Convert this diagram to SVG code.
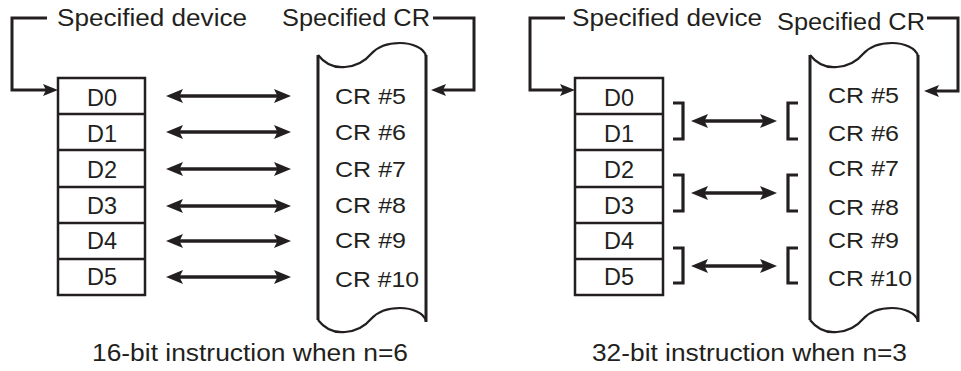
<svg xmlns="http://www.w3.org/2000/svg" width="961" height="371" viewBox="0 0 961 371">
<style>
  text { font-family: "Liberation Sans", Arial, sans-serif; fill: #231f20; }
  .lbl { font-size: 23px; }
  .d { font-size: 23px; text-anchor: middle; }
  .cr { font-size: 22px; }
  .cap { font-size: 23px; }
  .box { fill: #ffffff; stroke: #231f20; stroke-width: 2.5; }
  .sep { stroke: #231f20; stroke-width: 2.5; }
  .edge { fill: none; stroke: #231f20; stroke-width: 3; }
  .wave { fill: none; stroke: #231f20; stroke-width: 2.2; }
  .dbl { fill: none; stroke: #231f20; stroke-width: 3.5; marker-start: url(#ah); marker-end: url(#ah); }
  .one { fill: none; stroke: #231f20; stroke-width: 3; marker-end: url(#ahs); }
  .brk { fill: none; stroke: #231f20; stroke-width: 3.2; }
</style>
<defs>
  <marker id="ah" viewBox="0 0 17 14" refX="8" refY="7" markerWidth="17" markerHeight="14" orient="auto-start-reverse" markerUnits="userSpaceOnUse">
    <path d="M0,0 L17,7 L0,14 L3.5,7 Z" fill="#231f20"/>
  </marker>
  <marker id="ahs" viewBox="0 0 15 12" refX="7" refY="6" markerWidth="15" markerHeight="12" orient="auto" markerUnits="userSpaceOnUse">
    <path d="M0,0 L15,6 L0,12 L3,6 Z" fill="#231f20"/>
  </marker>
</defs>

<!-- Left panel -->
<g id="left-device">
  <rect class="box" x="58" y="78" width="87" height="217"/>
  <line class="sep" x1="58" y1="114" x2="145" y2="114"/>
  <line class="sep" x1="58" y1="150" x2="145" y2="150"/>
  <line class="sep" x1="58" y1="187" x2="145" y2="187"/>
  <line class="sep" x1="58" y1="223" x2="145" y2="223"/>
  <line class="sep" x1="58" y1="259" x2="145" y2="259"/>
  <text class="d" x="102" y="106" textLength="30" lengthAdjust="spacingAndGlyphs">D0</text>
  <text class="d" x="102" y="142" textLength="30" lengthAdjust="spacingAndGlyphs">D1</text>
  <text class="d" x="102" y="178" textLength="30" lengthAdjust="spacingAndGlyphs">D2</text>
  <text class="d" x="102" y="214" textLength="30" lengthAdjust="spacingAndGlyphs">D3</text>
  <text class="d" x="102" y="249" textLength="30" lengthAdjust="spacingAndGlyphs">D4</text>
  <text class="d" x="102" y="285" textLength="30" lengthAdjust="spacingAndGlyphs">D5</text>
</g>
<g id="left-cr">
  <path class="wave" d="M318,55 C325,64 335,68 345,67 C358,66 366,60 371,54 C378,46 388,43 400,43 C412,43 424,48 426,56"/>
  <path class="wave" d="M318,320 C325,329 335,333 345,332 C358,331 366,325 371,319 C378,311 388,308 400,308 C412,308 424,313 426,321"/>
  <line class="edge" x1="318" y1="55" x2="318" y2="320"/>
  <line class="edge" x1="426" y1="55" x2="426" y2="322"/>
  <text class="cr" x="335" y="104" textLength="71" lengthAdjust="spacingAndGlyphs">CR #5</text>
  <text class="cr" x="335" y="140" textLength="71" lengthAdjust="spacingAndGlyphs">CR #6</text>
  <text class="cr" x="335" y="177" textLength="71" lengthAdjust="spacingAndGlyphs">CR #7</text>
  <text class="cr" x="335" y="213" textLength="71" lengthAdjust="spacingAndGlyphs">CR #8</text>
  <text class="cr" x="335" y="248" textLength="71" lengthAdjust="spacingAndGlyphs">CR #9</text>
  <text class="cr" x="335" y="287" textLength="84" lengthAdjust="spacingAndGlyphs">CR #10</text>
</g>
<g id="left-labels">
  <text class="lbl" x="57" y="26" textLength="190" lengthAdjust="spacingAndGlyphs">Specified device</text>
  <text class="lbl" x="282" y="26" textLength="148" lengthAdjust="spacingAndGlyphs">Specified CR</text>
  <text class="cap" x="92" y="361" textLength="316" lengthAdjust="spacingAndGlyphs">16-bit instruction when n=6</text>
</g>

<!-- Right panel -->
<g id="right-device">
  <rect class="box" x="575" y="78" width="88" height="217"/>
  <line class="sep" x1="575" y1="114" x2="663" y2="114"/>
  <line class="sep" x1="575" y1="150" x2="663" y2="150"/>
  <line class="sep" x1="575" y1="187" x2="663" y2="187"/>
  <line class="sep" x1="575" y1="223" x2="663" y2="223"/>
  <line class="sep" x1="575" y1="259" x2="663" y2="259"/>
  <text class="d" x="619" y="106" textLength="30" lengthAdjust="spacingAndGlyphs">D0</text>
  <text class="d" x="619" y="142" textLength="30" lengthAdjust="spacingAndGlyphs">D1</text>
  <text class="d" x="619" y="178" textLength="30" lengthAdjust="spacingAndGlyphs">D2</text>
  <text class="d" x="619" y="214" textLength="30" lengthAdjust="spacingAndGlyphs">D3</text>
  <text class="d" x="619" y="249" textLength="30" lengthAdjust="spacingAndGlyphs">D4</text>
  <text class="d" x="619" y="285" textLength="30" lengthAdjust="spacingAndGlyphs">D5</text>
</g>
<g id="right-cr">
  <path class="wave" d="M810,55 C817,64 827,68 837,67 C850,66 858,60 863,54 C870,46 880,43 892,43 C904,43 916,48 918,56"/>
  <path class="wave" d="M810,320 C817,329 827,333 837,332 C850,331 858,325 863,319 C870,311 880,308 892,308 C904,308 916,313 918,321"/>
  <line class="edge" x1="810" y1="55" x2="810" y2="320"/>
  <line class="edge" x1="918" y1="55" x2="918" y2="322"/>
  <text class="cr" x="828" y="103" textLength="71" lengthAdjust="spacingAndGlyphs">CR #5</text>
  <text class="cr" x="828" y="141" textLength="71" lengthAdjust="spacingAndGlyphs">CR #6</text>
  <text class="cr" x="828" y="176" textLength="71" lengthAdjust="spacingAndGlyphs">CR #7</text>
  <text class="cr" x="828" y="215" textLength="71" lengthAdjust="spacingAndGlyphs">CR #8</text>
  <text class="cr" x="828" y="248" textLength="71" lengthAdjust="spacingAndGlyphs">CR #9</text>
  <text class="cr" x="828" y="286" textLength="84" lengthAdjust="spacingAndGlyphs">CR #10</text>
</g>
<g id="right-labels">
  <text class="lbl" x="572" y="26" textLength="190" lengthAdjust="spacingAndGlyphs">Specified device</text>
  <text class="lbl" x="777" y="30" textLength="148" lengthAdjust="spacingAndGlyphs">Specified CR</text>
  <text class="cap" x="592" y="361" textLength="315" lengthAdjust="spacingAndGlyphs">32-bit instruction when n=3</text>
</g>

<g id="connectors">
  <polyline class="one" points="47,18 12,18 12,90 50,90"/>
  <polyline class="one" points="433,18 474,18 474,90 439,90"/>
  <line class="dbl" x1="175" y1="96" x2="282" y2="96"/>
  <line class="dbl" x1="175" y1="132" x2="282" y2="132"/>
  <line class="dbl" x1="175" y1="169" x2="282" y2="169"/>
  <line class="dbl" x1="175" y1="206" x2="282" y2="206"/>
  <line class="dbl" x1="175" y1="241" x2="282" y2="241"/>
  <line class="dbl" x1="175" y1="277" x2="282" y2="277"/>
  <polyline class="one" points="565,18 530,18 530,90 567,90"/>
  <polyline class="one" points="927,18 958,18 958,91 932,91"/>
  <path class="brk" d="M673,103 H683 V139 H673"/>
  <path class="brk" d="M673,175 H683 V211 H673"/>
  <path class="brk" d="M673,248 H683 V283 H673"/>
  <path class="brk" d="M798,103 H788 V139 H798"/>
  <path class="brk" d="M798,175 H788 V211 H798"/>
  <path class="brk" d="M798,248 H788 V283 H798"/>
  <line class="dbl" x1="700" y1="121" x2="768" y2="121"/>
  <line class="dbl" x1="700" y1="193" x2="768" y2="193"/>
  <line class="dbl" x1="700" y1="266" x2="768" y2="266"/>
</g>
</svg>
